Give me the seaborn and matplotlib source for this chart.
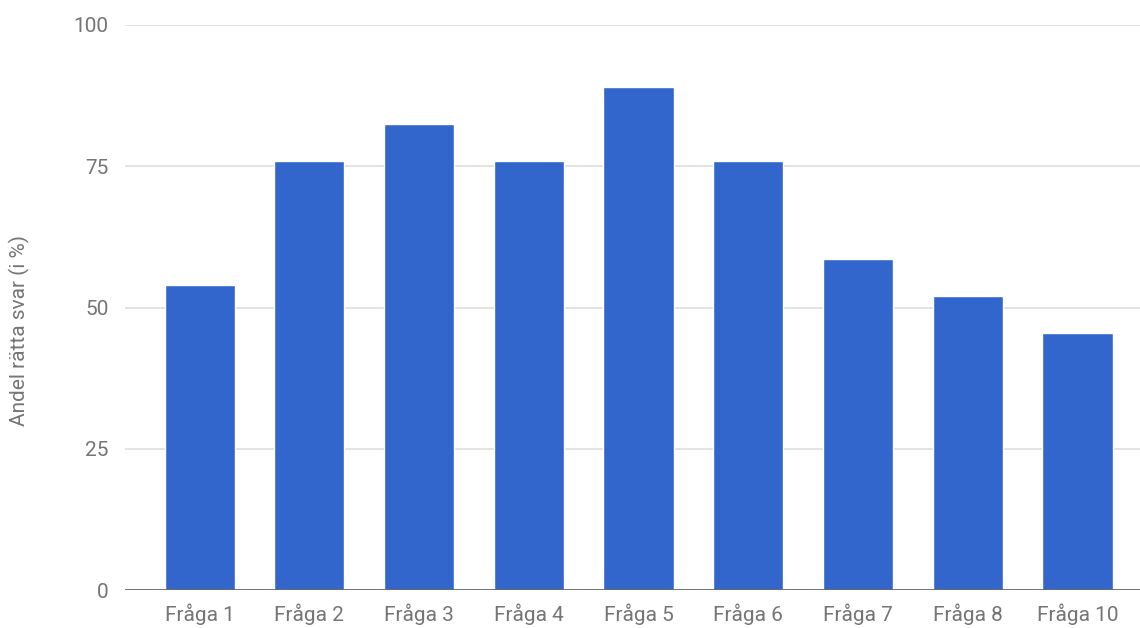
import matplotlib
matplotlib.use("Agg")
import matplotlib.pyplot as plt
import seaborn as sns
import pandas as pd

categories = ["Fråga 1", "Fråga 2", "Fråga 3", "Fråga 4", "Fråga 5",
              "Fråga 6", "Fråga 7", "Fråga 8", "Fråga 10"]
values = [54.0, 76.0, 82.5, 76.0, 89.0, 76.0, 58.5, 52.0, 45.5]
yticks = [0, 25, 50, 75, 100]
ylabel = "Andel rätta svar (i %)"

df = pd.DataFrame({"cat": categories, "val": values})

sns.set_theme(style="white")
plt.rcParams["font.family"] = ["Roboto", "DejaVu Sans"]

fig = plt.figure(figsize=(11.4, 6.28), dpi=100)
ax = fig.add_axes([125 / 1140, 1 - 590 / 628, (1140 - 125) / 1140, (590 - 25) / 628])

sns.barplot(data=df, x="cat", y="val", color="#3366cc", saturation=1,
            width=0.64, ax=ax, zorder=3)

ax.set_ylim(0, 100)
ax.set_xlim(-0.68, 8.57)
ax.set_yticks(yticks)
ax.set_yticklabels([str(t) for t in yticks])
for t in yticks[1:]:
    ax.axhline(t, color="#e0e0e0", lw=1.3, zorder=1)
ax.axhline(0, color="#666666", lw=2, zorder=4)

for s in ax.spines.values():
    s.set_visible(False)
ax.tick_params(axis="both", length=0, labelsize=15, colors="#757575")
ax.tick_params(axis="x", pad=10)
ax.tick_params(axis="y", pad=12)
ax.set_xlabel("")
ax.set_ylabel(ylabel, fontsize=15, color="#757575", labelpad=30)
ax.yaxis.set_label_coords(-95 / 1015, 0.46)

fig.savefig("out.png", dpi=100, facecolor="white")
